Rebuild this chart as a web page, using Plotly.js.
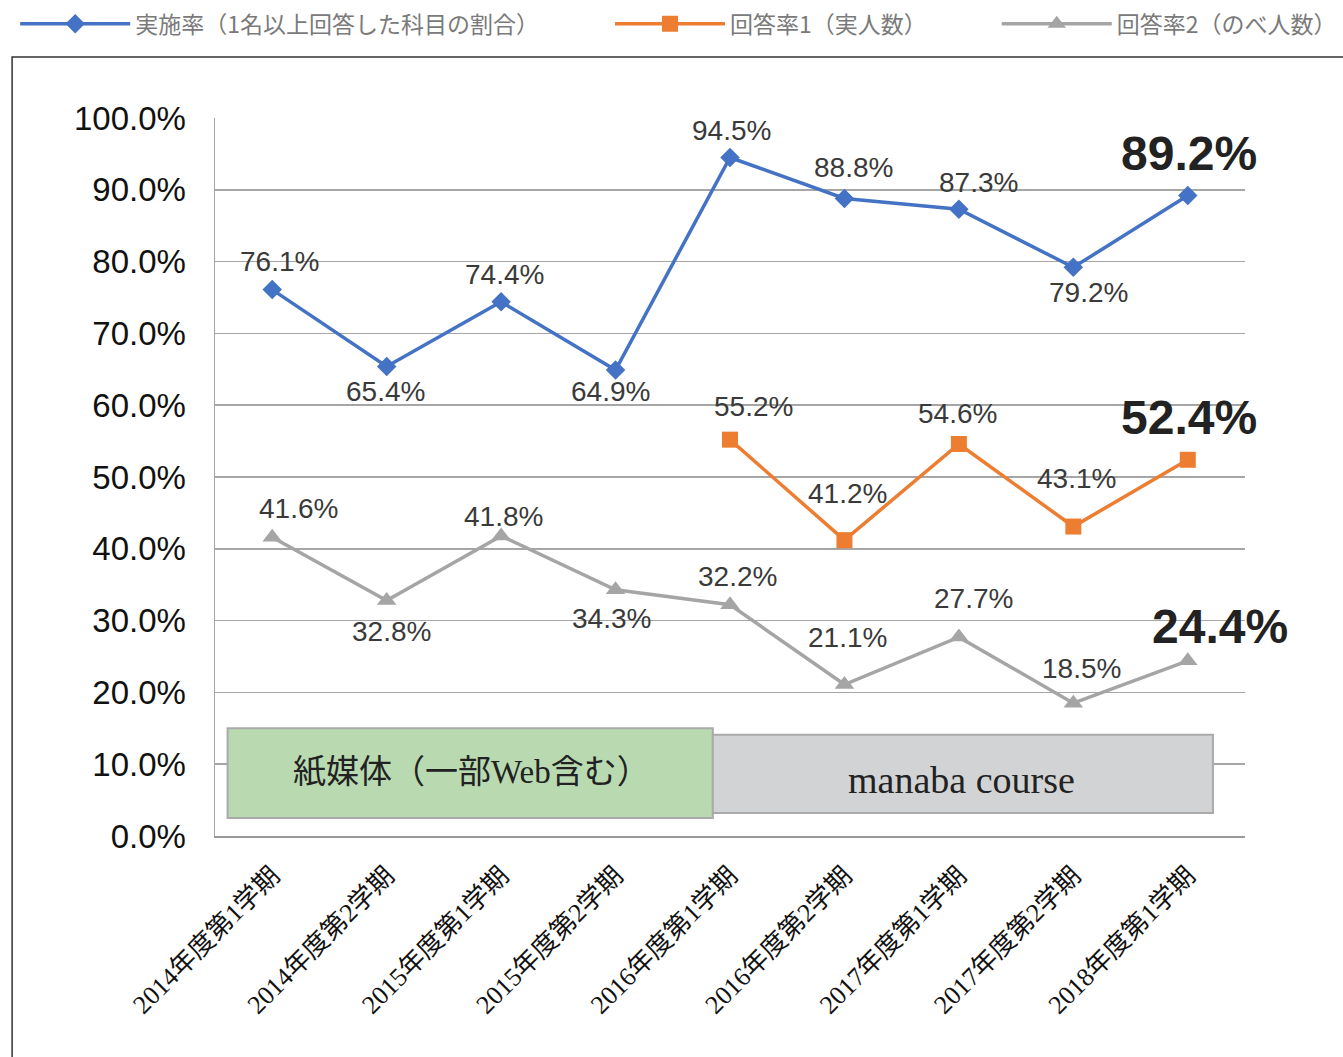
<!DOCTYPE html>
<html>
<head>
<meta charset="utf-8">
<script src="https://cdn.plot.ly/plotly-3.0.1.min.js"></script>
<style>html,body{margin:0;padding:0;background:#fff;}#chart{width:1343px;height:1057px;}</style>
</head>
<body>
<div id="chart"></div>
<script>
// ---- data ----
const categories = ["2014年度第1学期","2014年度第2学期","2015年度第1学期","2015年度第2学期","2016年度第1学期","2016年度第2学期","2017年度第1学期","2017年度第2学期","2018年度第1学期"];
const seriesNames = ["実施率（1名以上回答した科目の割合）","回答率1（実人数）","回答率2（のべ人数）"];
const implementationRate = [76.1, 65.4, 74.4, 64.9, 94.5, 88.8, 87.3, 79.2, 89.2];
const responseRate1 = [null, null, null, null, 55.2, 41.2, 54.6, 43.1, 52.4];
const responseRate2 = [41.6, 32.8, 41.8, 34.3, 32.2, 21.1, 27.7, 18.5, 24.4];
const yTicks = [0,10,20,30,40,50,60,70,80,90,100];
const periodLabels = ["紙媒体（一部Web含む）", "manaba course"];

// ---- styles / label offsets (px) ----
const colors = ["#4472c4", "#ed7d31", "#a5a5a5"];
const symbols = ["diamond", "square", "triangle-up"];
const markerSizes = [15, 16, 17];
const legendIds = ["legend", "legend2", "legend3"];
const legendX = [-0.194, 0.3835, 0.759];
const labelOffsets = [
  [[7,-28],[-1,25],[3,-27],[-5,21],[1,-27],[9,-31],[20,-27],[15,25],[1,-42]],
  [null,null,null,null,[23,-33],[3,-47],[-1,-30],[3,-48],[1,-42]],
  [[26,-29],[5,31],[2,-19],[-4,29],[7,-28],[3,-47],[15,-39],[8,-35],[32,-34]]
];

const allSeries = [implementationRate, responseRate1, responseRate2];
const idx = categories.map((_, i) => i);

const traces = allSeries.map((vals, s) => ({
  type: "scatter",
  mode: "lines+markers",
  name: seriesNames[s],
  legend: legendIds[s],
  x: idx,
  y: vals,
  line: {color: colors[s], width: 3.5},
  marker: {color: colors[s], symbol: symbols[s], size: markerSizes[s]},
  connectgaps: false,
  hoverinfo: "x+y"
}));

const annotations = [];
allSeries.forEach((vals, s) => {
  vals.forEach((v, i) => {
    if (v === null) return;
    const last = i === vals.length - 1;
    const off = labelOffsets[s][i];
    annotations.push({
      x: i, y: v, xref: "x", yref: "y",
      text: v.toFixed(1) + "%",
      showarrow: false,
      xshift: off[0], yshift: -off[1],
      font: last ? {family: "Liberation Sans, Arial, sans-serif", size: 48, color: "#222", weight: "bold"}
                 : {family: "Liberation Sans, Arial, sans-serif", size: 28, color: "#3a3a3a"}
    });
  });
});
annotations.push({x: 1.74, y: 8.9, xref: "x", yref: "y", text: periodLabels[0], showarrow: false,
  font: {family: "Liberation Serif, Noto Sans CJK JP, serif", size: 33, color: "#222"}});
annotations.push({x: 6.02, y: 7.8, xref: "x", yref: "y", text: periodLabels[1], showarrow: false,
  font: {family: "Liberation Serif, serif", size: 38, color: "#222"}});

const shapes = [
  {type: "rect", xref: "paper", yref: "paper", x0: -0.197, x1: 1.12, y0: -0.35, y1: 1.085,
   line: {color: "#333", width: 1.5}, fillcolor: "rgba(0,0,0,0)", layer: "below"},
  {type: "rect", xref: "x", yref: "y", x0: -0.39, x1: 3.85, y0: 2.5, y1: 15.0,
   line: {color: "#a9aaa9", width: 2}, fillcolor: "#b9dab0", layer: "above"},
  {type: "rect", xref: "x", yref: "y", x0: 3.85, x1: 8.22, y0: 3.2, y1: 14.1,
   line: {color: "#aaaaaa", width: 2}, fillcolor: "#d2d3d5", layer: "above"}
];

const legendBase = {
  orientation: "h", xanchor: "left", y: 1.161, yanchor: "top",
  font: {family: "Noto Sans CJK JP, sans-serif", size: 23, color: "#7a7a7a"},
  bgcolor: "rgba(0,0,0,0)", itemwidth: 110, itemclick: false
};

const layout = {
  width: 1343, height: 1057,
  margin: {l: 215, r: 98, t: 118, b: 221, autoexpand: false},
  paper_bgcolor: "#fff", plot_bgcolor: "#fff",
  showlegend: true,
  legend: Object.assign({}, legendBase, {x: legendX[0]}),
  legend2: Object.assign({}, legendBase, {x: legendX[1]}),
  legend3: Object.assign({}, legendBase, {x: legendX[2]}),
  xaxis: {
    range: [-0.5, 8.5],
    tickmode: "array", tickvals: idx, ticktext: categories,
    tickangle: -45,
    tickfont: {family: "Liberation Serif, Noto Sans CJK JP, serif", size: 26, color: "#111"},
    ticklabelstandoff: 12,
    showgrid: false, zeroline: false,
    showline: true, linecolor: "#999", linewidth: 2,
    ticks: "", fixedrange: true
  },
  yaxis: {
    range: [0, 100],
    tickmode: "array", tickvals: yTicks,
    ticktext: yTicks.map(v => v.toFixed(1) + "%"),
    tickfont: {family: "Liberation Sans, Arial, sans-serif", size: 33, color: "#111"},
    ticklabelstandoff: 21,
    showgrid: true, gridcolor: "#a6a6a6", gridwidth: 1.5,
    zeroline: false,
    showline: true, linecolor: "#a6a6a6", linewidth: 1.5,
    ticks: "", fixedrange: true
  },
  shapes: shapes,
  annotations: annotations
};

Plotly.newPlot("chart", traces, layout, {displayModeBar: false, staticPlot: true});
</script>
</body>
</html>
